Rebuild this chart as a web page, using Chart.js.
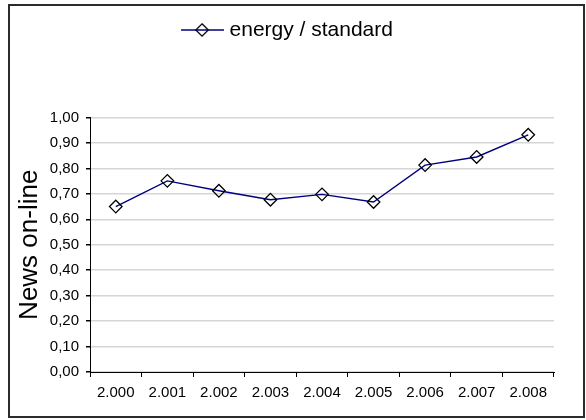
<!DOCTYPE html>
<html>
<head>
<meta charset="utf-8">
<script src="https://cdn.jsdelivr.net/npm/chart.js@4/dist/chart.umd.min.js"></script>
<style>
  html, body { margin: 0; padding: 0; background: #fff; }
  #wrap { width: 586px; height: 420px; }
</style>
</head>
<body>
<div id="wrap"><canvas id="grafico" width="586" height="420"></canvas></div>
<script>
// Datos
const anios = ['2.000', '2.001', '2.002', '2.003', '2.004', '2.005', '2.006', '2.007', '2.008'];
const energia = [0.650, 0.751, 0.712, 0.677, 0.698, 0.668, 0.813, 0.845, 0.932];
const nombreSerie = 'energy / standard';
const tituloY = 'News on-line';

const FUENTE = "'Liberation Sans', Arial, sans-serif";
const AZUL = '#000080';

// Icono de leyenda: linea con rombo hueco
function iconoLeyenda() {
  const c = document.createElement('canvas');
  c.width = 60; c.height = 16;
  const g = c.getContext('2d');
  g.strokeStyle = AZUL;
  g.lineWidth = 1.5;
  g.beginPath();
  g.moveTo(17, 8); g.lineTo(60, 8);
  g.stroke();
  g.strokeStyle = '#000';
  g.lineWidth = 1.3;
  g.beginPath();
  g.moveTo(38, 1.8); g.lineTo(44.2, 8); g.lineTo(38, 14.2); g.lineTo(31.8, 8); g.closePath();
  g.stroke();
  return c;
}

// Marco exterior del grafico
const marco = {
  id: 'marco',
  afterDraw(chart) {
    const ctx = chart.ctx;
    ctx.save();
    ctx.strokeStyle = '#2b2b2b';
    ctx.lineWidth = 2;
    ctx.strokeRect(9, 5, 575, 412);
    ctx.restore();
  }
};

new Chart(document.getElementById('grafico'), {
  type: 'line',
  data: {
    labels: anios,
    datasets: [{
      label: nombreSerie,
      data: energia,
      borderColor: AZUL,
      borderWidth: 1.4,
      tension: 0,
      fill: false,
      pointStyle: 'rectRot',
      pointRadius: 6.3,
      pointHoverRadius: 6.3,
      pointBackgroundColor: 'rgba(0,0,0,0)',
      pointBorderColor: '#000',
      pointBorderWidth: 1.3
    }]
  },
  options: {
    responsive: false,
    animation: false,
    events: [],
    layout: { padding: { left: 8, right: 32, top: 4, bottom: 0 } },
    plugins: {
      legend: {
        position: 'top',
        labels: {
          usePointStyle: true,
          pointStyle: iconoLeyenda(),
          pointStyleWidth: 50,
          padding: 15.5,
          color: '#000',
          font: { family: FUENTE, size: 21 }
        }
      },
      // espacio entre la leyenda y el area del grafico
      subtitle: {
        display: true,
        text: '',
        weight: 500,
        font: { size: 10, lineHeight: 1 },
        padding: { top: 0, bottom: 57 }
      },
      tooltip: { enabled: false }
    },
    scales: {
      x: {
        offset: true,
        grid: { display: true, offset: true, drawOnChartArea: false, tickLength: 5, tickColor: '#000' },
        border: { display: true, color: '#000', width: 1 },
        ticks: { color: '#000', padding: 7, maxRotation: 0, font: { family: FUENTE, size: 15 } },
        afterFit(scale) { scale.height = 48; }
      },
      y: {
        min: 0,
        max: 1,
        grid: { color: '#d6d6d6', lineWidth: 1.5, tickLength: 4, tickColor: '#000' },
        border: { display: true, color: '#000', width: 1 },
        ticks: {
          stepSize: 0.1,
          color: '#000',
          padding: 7,
          font: { family: FUENTE, size: 15 },
          callback: v => v.toFixed(2).replace('.', ',')
        },
        title: {
          display: true,
          text: tituloY,
          color: '#000',
          padding: { top: 6, bottom: 0 },
          font: { family: FUENTE, size: 26 }
        },
        afterFit(scale) { scale.width = 82; }
      }
    }
  },
  plugins: [marco]
});
</script>
</body>
</html>
